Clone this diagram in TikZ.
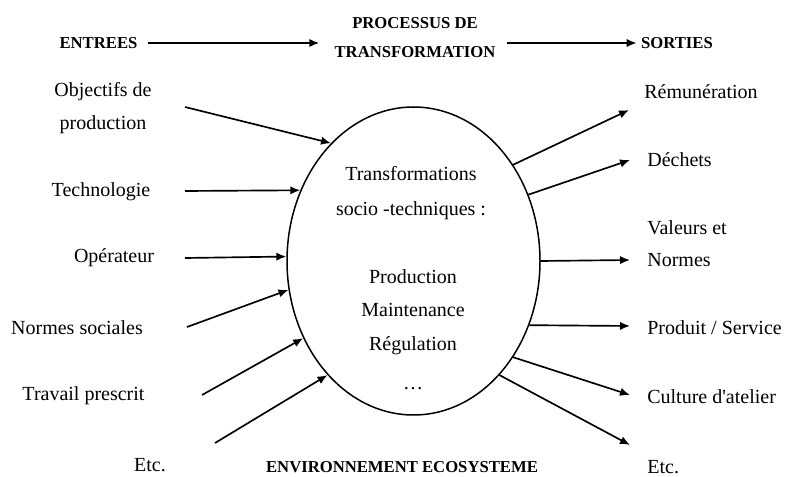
\documentclass[tikz,border=0pt]{standalone}
\usepackage{fontspec}
\setmainfont{Liberation Serif}
\usetikzlibrary{positioning,arrows.meta,shapes.geometric,calc}
\tikzset{
    head/.style={font=\bfseries\fontsize{10}{17.4}\selectfont, align=center},
    flow/.style={-{Latex[length=6pt,width=5pt]}, line width=1pt},
}

\begin{document}
\begin{tikzpicture}[
x=0.6pt, y=-0.6pt,
    every node/.style={
        inner sep=0pt,
        font=\fontsize{12}{19.8}\selectfont
    }
]
\useasboundingbox (0,0) rectangle (786,477);

% The header line
\node[head] (entrees)   at (98.5,43)  {ENTREES};
\node[head] (processus) at (415,37.5) {PROCESSUS DE\\TRANSFORMATION};
\node[head] (sorties)   at (677,43)   {SORTIES};
\draw[flow, shorten <=6pt, shorten >=9pt] (entrees) -- (entrees -| processus.west);
\draw[flow, shorten <=7pt, shorten >=2.5pt] (entrees -| processus.east) -- (sorties);

% The process
\node[ellipse, draw, line width=0.9pt, minimum width=151.8pt, minimum height=184.8pt] (transfo) at (413.5,261) {};
\node[align=center, font=\fontsize{12}{21}\selectfont] (socio) at (411,193) {Transformations\\socio -techniques :};
\node[align=center, font=\fontsize{12}{20}\selectfont] (regul) at (413,312) {Production\\Maintenance\\Régulation};
\node (dots) at (413,389) {\dots};
\node[head] (env) at (402,467) {ENVIRONNEMENT ECOSYSTEME};

% Inputs
\node[align=center] (objectifs)   at (103,108.5) {Objectifs de\\production};
\node (technologie) at (101,192)   {Technologie};
\node (operateur)   at (114,258)   {Opérateur};
\node (normes)      at (77,328)    {Normes sociales};
\node (travail)     at (83.5,396)  {Travail prescrit};
\node (etcin)       at (150,465)   {Etc.};

\coordinate (objectifs-s)   at (185,107);
\coordinate (technologie-s) at (185,191);
\coordinate (operateur-s)   at (185,258);
\coordinate (normes-s)      at (187,327);
\coordinate (travail-s)     at (202,395);
\coordinate (etcin-s)       at (215,443);

\draw[flow] (objectifs-s)   -- (transfo.125.7);
\draw[flow] (technologie-s) -- (transfo.148.3);
\draw[flow] (operateur-s)   -- (transfo.178.7);
\draw[flow] (normes-s)      -- (transfo.193.6);
\draw[flow] (travail-s)     -- (transfo.215.8);
\draw[flow] (etcin-s)       -- (transfo.233.6);

% Outputs
\node[anchor=west] (remun)   at (644,92)  {Rémunération};
\node[anchor=west] (dechets) at (647,160) {Déchets};
\node[anchor=west, align=left, font=\fontsize{12}{19.2}\selectfont] (valeurs) at (647,244) {Valeurs et\\Normes};
\node[anchor=west] (produit) at (647,328) {Produit / Service};
\node[anchor=west] (culture) at (647,397) {Culture d\textquotesingle atelier};
\node[anchor=west] (etcout)  at (647,467) {Etc.};

\coordinate (remun-e)   at (629,110);
\coordinate (dechets-e) at (630,160);
\coordinate (valeurs-e) at (630,260);
\coordinate (produit-e) at (630,326);
\coordinate (culture-e) at (630,395);
\coordinate (etcout-e)  at (630,445);

\draw[flow] (transfo.44.9)  -- (remun-e);
\draw[flow] (transfo.30.7)  -- (dechets-e);
\draw[flow] (transfo.0)     -- (valeurs-e);
\draw[flow] (transfo.331.3) -- (produit-e);
\draw[flow] (transfo.316.3) -- (culture-e);
\draw[flow] (transfo.307.7) -- (etcout-e);
\end{tikzpicture}
\end{document}
